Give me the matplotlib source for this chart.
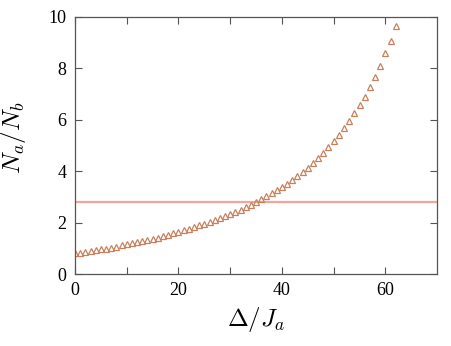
import numpy as np
import matplotlib
matplotlib.use("Agg")
import matplotlib.pyplot as plt

# Delta/J_a values and the ratio N_a/N_b
delta = list(range(0, 63))
ratio = [0.80, 0.83, 0.86, 0.89, 0.92, 0.96, 0.99, 1.03, 1.07, 1.11,
         1.15, 1.19, 1.23, 1.28, 1.32, 1.37, 1.42, 1.47, 1.53, 1.59,
         1.64, 1.70, 1.76, 1.83, 1.89, 1.96, 2.03, 2.10, 2.18, 2.26,
         2.34, 2.42, 2.51, 2.60, 2.70, 2.80, 2.91, 3.02, 3.14, 3.26,
         3.39, 3.52, 3.66, 3.81, 3.97, 4.14, 4.32, 4.51, 4.72, 4.94,
         5.17, 5.42, 5.68, 5.97, 6.27, 6.58, 6.90, 7.26, 7.65, 8.11,
         8.59, 9.08, 9.66]
h_line = 2.8

x_ticks = [0, 10, 20, 30, 40, 50, 60]
x_labels = ["0", "", "20", "", "40", "", "60"]
y_ticks = [0, 2, 4, 6, 8, 10]

plt.rcParams['font.family'] = ['Liberation Serif', 'DejaVu Serif']
plt.rcParams['mathtext.fontset'] = 'cm'

fig = plt.figure(figsize=(4.52, 3.46), dpi=100)
ax = fig.add_axes([0.166, 0.208, 0.801, 0.743])

ax.axhline(h_line, color='#f4a49c', lw=1.6, zorder=1)
ax.plot(delta, ratio, linestyle='none', marker='^', markersize=4.6,
        markerfacecolor='none', markeredgecolor='#c8805c', markeredgewidth=0.9,
        zorder=2)

ax.set_xlim(0, 70)
ax.set_ylim(0, 10)
ax.set_xticks(x_ticks)
ax.set_xticklabels(x_labels)
ax.set_yticks(y_ticks)

for s in ax.spines.values():
    s.set_color('#555555')
    s.set_linewidth(0.9)
ax.tick_params(direction='in', top=True, right=True, length=5, width=0.8,
               colors='#555555', labelcolor='black', labelsize=13, pad=6)

ax.set_xlabel(r'$\Delta/J_a$', fontsize=18, labelpad=4)
ax.set_ylabel(r'$N_a/N_b$', fontsize=18)
ax.yaxis.set_label_coords(-0.13, 0.53)

fig.savefig('out.png', dpi=100)
